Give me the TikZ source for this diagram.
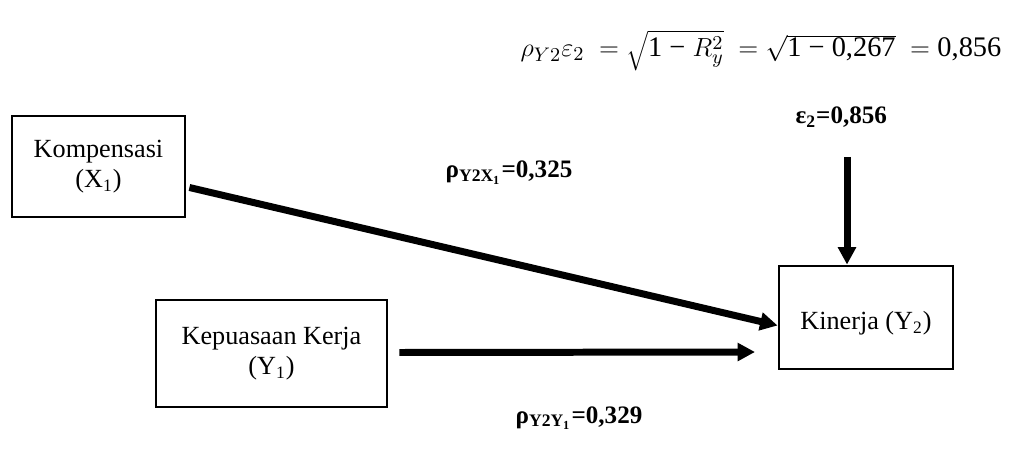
\documentclass[tikz,border=0pt]{standalone}
\usepackage{fontspec}
\setmainfont{Liberation Serif}
\usepackage{tikz}
\usetikzlibrary{arrows.meta,positioning,calc}
\tikzset{
  every picture/.style = {
    x=0.0161cm, y=-0.0161cm
  },
  var/.style={
    draw, line width=1.3pt,
    align=center,
    inner sep=2pt,
    font=\fontsize{12}{14}\selectfont
  },
  path/.style={
    line width=3.2pt,
    -{Triangle[length=8pt,width=8pt]}
  },
  coef/.style={
    font=\fontsize{11.5}{13}\selectfont\bfseries,
    inner sep=1pt
  }
}

\begin{document}
\begin{tikzpicture}
        \useasboundingbox (0,0) rectangle (1021,452);
        % formula
        \node[anchor=base, font=\fontsize{13}{15}\selectfont, inner sep=0pt] (eq) at (761,57)
            {$\rho_{Y2}\varepsilon_{2}\;=\sqrt{\mbox{1 − }R_{y}^{2}}\;=\sqrt{\mbox{1 − 0,267}}\;=\mbox{0,856}$};
        % variables
        \node[var, minimum width=2.785cm, minimum height=1.626cm] (komp) at (98.5,166.5) {Kompensasi\\(X\textsubscript{1})};
        \node[var, minimum width=3.719cm, minimum height=1.723cm] (kep) at (271.5,353.5) {Kepuasaan Kerja\\(Y\textsubscript{1})};
        \node[var, minimum width=2.801cm, minimum height=1.658cm, text depth=0pt] (kin) at (866,317.5) {\raisebox{-3pt}{Kinerja (Y\textsubscript{2})}};
        % coefficients
        \node[coef, anchor=base west] (pX) at (443,178) {ρ\textsubscript{Y2X\textsubscript{1}}=0,325};
        \node[coef, anchor=base west] (pY) at (513,423) {ρ\textsubscript{Y2Y\textsubscript{1}}=0,329};
        \node[coef, anchor=base west] (eps) at (793,124) {ε\textsubscript{2}=0,856};
        \coordinate (epsend) at (847,157);
        \coordinate (kepend) at (755,352);
        % paths
        \draw[path] ([shift={(3,21)}]komp.east) -- ([shift={(0,8)}]kin.west);
        \draw[path] ([shift={(11,-1)}]kep.east) -- (kepend);
        \draw[path] (epsend) -- (epsend |- kin.north);
    \end{tikzpicture}
\end{document}
